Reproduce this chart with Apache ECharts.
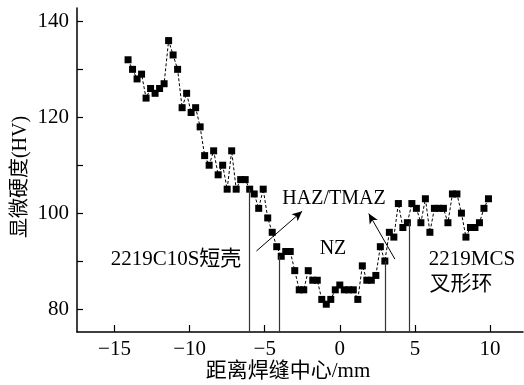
<!DOCTYPE html>
<html>
<head>
<meta charset="utf-8">
<script src="https://cdn.jsdelivr.net/npm/echarts@6/dist/echarts.min.js"></script>
<style>
html,body{margin:0;padding:0;background:#fff;}
#chart{width:524px;height:385px;}
</style>
</head>
<body>
<div id="chart"></div>
<script>
// Distance from weld centre (mm)
const distance = [-14.1,-13.8,-13.5,-13.2,-12.9,-12.6,-12.3,-12.0,-11.7,-11.4,-11.1,-10.8,-10.5,-10.2,-9.9,-9.6,-9.3,-9.0,-8.7,-8.4,-8.1,-7.8,-7.5,-7.2,-6.9,-6.6,-6.3,-6.0,-5.7,-5.4,-5.1,-4.8,-4.5,-4.2,-3.9,-3.6,-3.3,-3.0,-2.7,-2.4,-2.1,-1.8,-1.5,-1.2,-0.9,-0.6,-0.3,0.0,0.3,0.6,0.9,1.2,1.5,1.8,2.1,2.4,2.7,3.0,3.3,3.6,3.9,4.2,4.5,4.8,5.1,5.4,5.7,6.0,6.3,6.6,6.9,7.2,7.5,7.8,8.1,8.4,8.7,9.0,9.3,9.6,9.9];
// Microhardness (HV)
const hardness = [132,130,128,129,124,126,125,126,127,136,133,130,122,125,121,122,118,112,110,113,108,110,105,113,105,107,107,105,104,101,105,99,96,93,91,92,92,88,84,84,88,86,86,82,81,82,84,85,84,84,84,82,89,86,86,87,93,90,96,95,102,97,98,102,101,98,103,96,101,101,101,98,104,104,100,95,97,97,98,101,103];

// Zone boundary lines (x position, top hardness)
const boundaryX = [-6.0, -4.0, 3.0, 4.65];
const boundaryTop = [105, 91, 90, 98];

// Arrows (start -> end, data coords)
const arrowStart = [[-5.55, 92.1], [3.67, 90.4]];
const arrowEnd = [[-2.51, 100.4], [1.93, 99.9]];

const xTicks = [-15, -10, -5, 0, 5, 10];
const yLabels = [80, 100, 120, 140];
const yTicks = [80, 90, 100, 110, 120, 130, 140];
const X_MIN = -17.5, X_MAX = 12.2, Y_MIN = 75.2, Y_MAX = 142.8;

const FONT = "'Liberation Serif','Times New Roman','Noto Sans CJK SC',serif";

const chart = echarts.init(document.getElementById('chart'), null, {renderer: 'canvas'});

const points = distance.map((d, i) => [d, hardness[i]]);

const boundaryLines = boundaryX.map((x, i) => [
  {coord: [x, Y_MIN], symbol: 'none'},
  {coord: [x, boundaryTop[i]], symbol: 'none'}
]);
const arrowLines = arrowStart.map((s, i) => [
  {coord: s, symbol: 'none'},
  {coord: arrowEnd[i], symbol: 'arrow', symbolSize: [7, 10]}
]);

chart.setOption({
  animation: false,
  backgroundColor: '#fff',
  grid: {left: 77, right: 1, top: 8, bottom: 53, containLabel: false},
  xAxis: {
    type: 'value', min: X_MIN, max: X_MAX,
    axisLine: {show: true, onZero: false, lineStyle: {color: '#000', width: 1.5}},
    axisTick: {show: true, inside: true, length: 7, customValues: xTicks, lineStyle: {color: '#000', width: 1.2}},
    axisLabel: {customValues: xTicks, color: '#000', fontFamily: FONT, fontSize: 21, margin: 7,
      formatter: v => String(v).replace('-', '\u2212')},
    splitLine: {show: false}
  },
  yAxis: {
    type: 'value', min: Y_MIN, max: Y_MAX,
    axisLine: {show: true, onZero: false, lineStyle: {color: '#000', width: 1.5}},
    axisTick: {show: true, inside: true, length: 6, customValues: yTicks, lineStyle: {color: '#000', width: 1.2}},
    axisLabel: {customValues: yLabels, color: '#000', fontFamily: FONT, fontSize: 21, margin: 8},
    splitLine: {show: false}
  },
  series: [
    {
      type: 'line',
      data: points,
      symbol: 'rect',
      symbolSize: 7,
      itemStyle: {color: '#000'},
      lineStyle: {color: '#000', width: 1, type: [3, 2]},
      z: 3,
      markLine: {
        silent: true,
        animation: false,
        label: {show: false},
        lineStyle: {color: '#333', width: 1.2, type: 'solid'},
        data: boundaryLines
      }
    },
    {
      type: 'line',
      data: [],
      markLine: {
        silent: true,
        animation: false,
        label: {show: false},
        lineStyle: {color: '#000', width: 1, type: 'solid'},
        data: arrowLines
      }
    }
  ],
  graphic: [
    {type: 'text', style: {text: 'HAZ/TMAZ', x: 334, y: 199, font: "20px " + FONT, fill: '#000', align: 'center', verticalAlign: 'middle'}},
    {type: 'text', style: {text: 'NZ', x: 333, y: 249, font: "20px " + FONT, fill: '#000', align: 'center', verticalAlign: 'middle'}},
    {type: 'text', style: {text: '2219C10S短壳', x: 176, y: 259, font: "21px " + FONT, fill: '#000', align: 'center', verticalAlign: 'middle'}},
    {type: 'text', style: {text: '2219MCS', x: 472, y: 259, font: "21px " + FONT, fill: '#000', align: 'center', verticalAlign: 'middle'}},
    {type: 'text', style: {text: '叉形环', x: 461, y: 284, font: "21px " + FONT, fill: '#000', align: 'center', verticalAlign: 'middle'}},
    {type: 'text', rotation: Math.PI / 2, x: 21, y: 177,
      style: {text: '显微硬度(HV)', x: 0, y: 0, font: "20px " + FONT, fill: '#000', align: 'center', verticalAlign: 'middle'}},
    {type: 'text', style: {text: '距离焊缝中心/mm', x: 288, y: 371, font: "21px " + FONT, fill: '#000', align: 'center', verticalAlign: 'middle'}}
  ]
});
</script>
</body>
</html>
